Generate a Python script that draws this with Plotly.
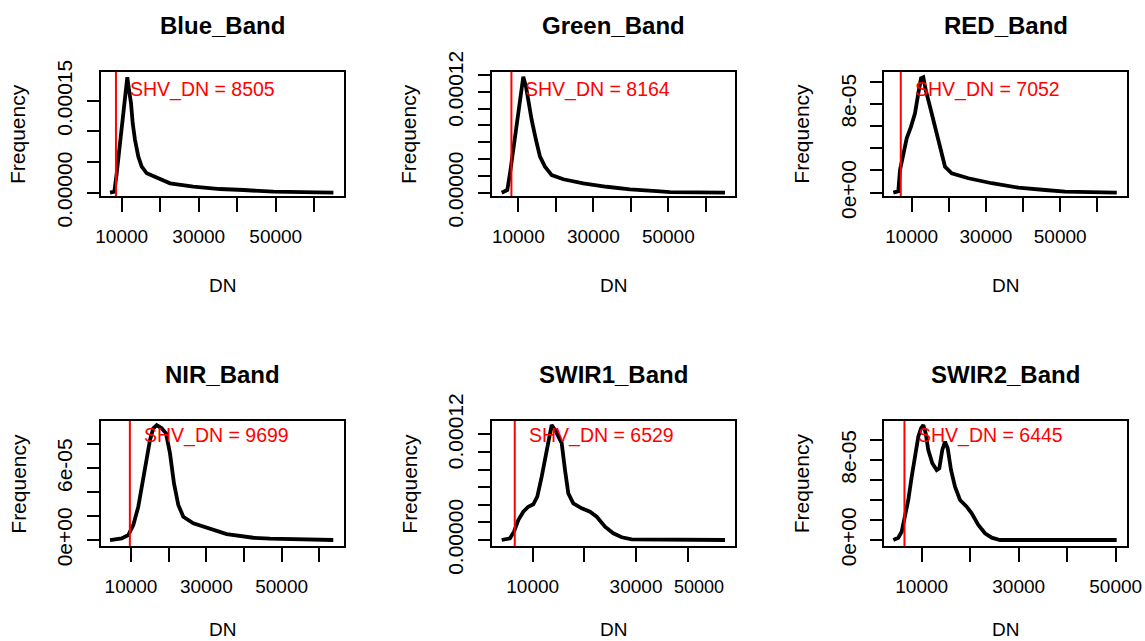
import plotly.graph_objects as go

W, H = 1145, 641
FONT = "Liberation Sans, Arial, sans-serif"

# ---------------- data ----------------
band_names = ["Blue_Band", "Green_Band", "RED_Band", "NIR_Band", "SWIR1_Band", "SWIR2_Band"]
shv_dn = [8505, 8164, 7052, 9699, 6529, 6445]

blue_dn = [6961, 8078, 8701, 9377, 10000, 10597, 11039, 11455, 11896, 12416, 12857, 13455,
           14312, 15195, 16494, 19091, 22545, 28597, 35532, 41584, 49377, 64961]
blue_freq = [0, 1.6e-6, 3.17e-5, 7.25e-5, 1.078e-4, 1.515e-4, 1.732e-4, 1.886e-4, 1.678e-4,
             1.461e-4, 1.134e-4, 8.6e-5, 5.88e-5, 4.25e-5, 3.17e-5, 2.52e-5, 1.53e-5, 9.8e-6,
             6.0e-6, 4.4e-6, 1.6e-6, 0]

green_dn = [5573, 7067, 7787, 8667, 9387, 10267, 10907, 11333, 12053, 12667, 13573, 14720,
            15787, 17120, 18907, 22000, 27333, 33573, 39787, 46907, 50453, 65120]
green_freq = [0, 3.2e-6, 2.3e-5, 5.08e-5, 7.46e-5, 9.85e-5, 1.22e-4, 1.381e-4, 1.262e-4,
              1.10e-4, 8.65e-5, 6.27e-5, 4.29e-5, 3.1e-5, 2.1e-5, 1.6e-5, 1.12e-5, 7.1e-6,
              4.0e-6, 2.0e-6, 8e-7, 0]

red_dn = [5040, 6388, 6846, 7736, 8652, 9811, 10889, 11779, 12507, 13127, 13774, 14933,
          16280, 17628, 18976, 20782, 25256, 31563, 38733, 45930, 51321, 65256]
red_freq = [0, 1.2e-6, 2.04e-5, 3.55e-5, 4.9e-5, 5.95e-5, 7.15e-5, 8.95e-5, 1.03e-4, 1.04e-4,
            9.25e-5, 7.75e-5, 5.95e-5, 4.14e-5, 2.34e-5, 1.75e-5, 1.3e-5, 8.5e-6, 4.5e-6,
            2.4e-6, 9e-7, 0]

nir_dn = [4424, 7531, 9283, 10611, 11938, 13107, 14169, 15045, 15921, 16824, 18152, 19294,
          20356, 21418, 22560, 23887, 26543, 30977, 35412, 42475, 46910, 63718]
nir_freq = [0, 1.4e-6, 4.2e-6, 1.26e-5, 2.79e-5, 4.74e-5, 6.69e-5, 8.37e-5, 9.35e-5, 9.62e-5,
            9.35e-5, 8.93e-5, 7.25e-5, 4.74e-5, 2.93e-5, 1.95e-5, 1.4e-5, 9.8e-6, 5.0e-6,
            1.9e-6, 1.1e-6, 0]

swir1_dn = [4000, 5607, 6381, 7213, 8181, 9148, 10116, 10890, 11742, 12574, 13213, 13677,
            14316, 14955, 15612, 16251, 16890, 17858, 19483, 21090, 22386, 23993, 25599,
            27225, 29161, 47218]
swir1_freq = [0, 1.9e-6, 9.4e-6, 2.27e-5, 3.22e-5, 3.78e-5, 4.06e-5, 4.92e-5, 7.2e-5, 9.85e-5,
              1.21e-4, 1.307e-4, 1.25e-4, 1.17e-4, 1.10e-4, 7.95e-5, 5.3e-5, 4.17e-5, 3.6e-5,
              3.22e-5, 2.65e-5, 1.51e-5, 7.6e-6, 3.1e-6, 8e-7, 0]

swir2_dn = [4144, 5175, 5876, 6557, 7237, 7938, 8619, 9299, 9856, 10330, 10825, 11361, 12186,
            13093, 13629, 14247, 14804, 15361, 16041, 16866, 17897, 19278, 20309, 21670,
            23052, 24433, 26144, 50206]
swir2_freq = [0, 2.3e-6, 8.3e-6, 2.33e-5, 4.0e-5, 6.33e-5, 8.67e-5, 1.033e-4, 1.117e-4,
              1.15e-4, 1.067e-4, 9.0e-5, 7.67e-5, 7.0e-5, 7.17e-5, 9.0e-5, 9.83e-5, 9.17e-5,
              7.0e-5, 5.33e-5, 4.0e-5, 3.33e-5, 2.67e-5, 1.5e-5, 6.7e-6, 2.3e-6, 0, 0]

x_tickvals = [
    [10000, 20000, 30000, 40000, 50000, 60000],
    [10000, 20000, 30000, 40000, 50000, 60000],
    [10000, 20000, 30000, 40000, 50000, 60000],
    [10000, 20000, 30000, 40000, 50000, 60000],
    [10000, 20000, 30000, 40000],
    [10000, 20000, 30000, 40000, 50000],
]
x_ticktext = [
    ["10000", "", "30000", "", "50000", ""],
    ["10000", "", "30000", "", "50000", ""],
    ["10000", "", "30000", "", "50000", ""],
    ["10000", "", "30000", "", "50000", ""],
    ["10000", "", "30000", ""],
    ["10000", "", "30000", "", "50000"],
]
y_tickvals = [
    [0, 5e-5, 1e-4, 1.5e-4],
    [0, 2e-5, 4e-5, 6e-5, 8e-5, 1e-4, 1.2e-4, 1.4e-4],
    [0, 2e-5, 4e-5, 6e-5, 8e-5, 1e-4],
    [0, 2e-5, 4e-5, 6e-5, 8e-5],
    [0, 2e-5, 4e-5, 6e-5, 8e-5, 1e-4, 1.2e-4],
    [0, 2e-5, 4e-5, 6e-5, 8e-5, 1e-4],
]
y_ticktext = [
    ["0.00000", "", "", "0.00015"],
    ["0.00000", "", "", "", "", "", "0.00012", ""],
    ["0e+00", "", "", "", "8e-05", ""],
    ["0e+00", "", "", "6e-05", ""],
    ["0.00000", "", "", "", "", "", "0.00012"],
    ["0e+00", "", "", "", "8e-05", ""],
]
extra_label = "50000"   # stray label under the SWIR1 axis

series_dn = [blue_dn, green_dn, red_dn, nir_dn, swir1_dn, swir2_dn]
series_freq = [blue_freq, green_freq, red_freq, nir_freq, swir1_freq, swir2_freq]

# ---------------- layout geometry (pixels) ----------------
boxes = [  # left, right, top, bottom
    (100.7, 344.0, 71.7, 196.0),
    (491.7, 735.0, 71.7, 196.0),
    (884.3, 1126.7, 71.7, 196.0),
    (100.7, 344.0, 421.0, 546.0),
    (491.7, 735.0, 421.0, 546.0),
    (884.3, 1126.7, 421.0, 546.0),
]
x_ranges = [(4545, 67714), (2907, 67787), (2615, 67924), (1954, 66559), (2065, 49154), (2289, 52268)]
y_ranges = [(-5.4e-6, 1.977e-4), (-3.9e-6, 1.44e-4), (-3.0e-6, 1.09e-4),
            (-5.0e-6, 9.96e-5), (-6.8e-6, 1.352e-4), (-6.0e-6, 1.19e-4)]

fig = go.Figure()
annotations = []
shapes = []

for i in range(6):
    n = "" if i == 0 else str(i + 1)
    l, r, t, b = boxes[i]
    fig.add_trace(go.Scatter(
        x=series_dn[i], y=series_freq[i], mode="lines",
        line=dict(color="black", width=3.8),
        xaxis="x" + n, yaxis="y" + n, showlegend=False, hoverinfo="skip",
    ))
    axis_common = dict(
        showgrid=False, zeroline=False, showline=True, linecolor="black", linewidth=2,
        mirror=True, ticks="outside", tickcolor="black", tickwidth=2, automargin=False,
    )
    fig.layout["xaxis" + n] = dict(
        axis_common, domain=[l / W, r / W], range=list(x_ranges[i]),
        tickmode="array", tickvals=x_tickvals[i], ticktext=x_ticktext[i],
        ticklen=14, ticklabelstandoff=8, anchor="y" + n,
        tickfont=dict(family=FONT, size=19, color="black"),
    )
    fig.layout["yaxis" + n] = dict(
        axis_common, domain=[1 - b / H, 1 - t / H], range=list(y_ranges[i]),
        tickmode="array", tickvals=y_tickvals[i], ticktext=y_ticktext[i],
        ticklen=12, tickangle=-90, ticklabelstandoff=6, anchor="x" + n,
        tickfont=dict(family=FONT, size=21, color="black"),
    )
    cx = (l + r) / 2
    cy = (t + b) / 2
    title_y = 25 if i < 3 else 373.3
    annotations.append(dict(
        text="<b>" + band_names[i] + "</b>", xref="paper", yref="paper",
        x=cx / W, y=1 - (title_y + 1) / H, xanchor="center", yanchor="middle",
        showarrow=False, font=dict(family=FONT, size=24, color="black"),
    ))
    annotations.append(dict(
        text="Frequency", xref="paper", yref="paper", textangle=-90,
        x=(l - 82.5) / W, y=1 - cy / H, xanchor="center", yanchor="middle",
        showarrow=False, font=dict(family=FONT, size=21, color="black"),
    ))
    dn_y = 285 if i < 3 else 629
    annotations.append(dict(
        text="DN", xref="paper", yref="paper",
        x=cx / W, y=1 - dn_y / H, xanchor="center", yanchor="middle",
        showarrow=False, font=dict(family=FONT, size=19, color="black"),
    ))
    ty = 1 - 17.6 / (b - t) if i < 3 else 1 - 14.7 / (b - t)
    annotations.append(dict(
        text="SHV_DN = " + str(shv_dn[i]), xref="x" + n, yref="y" + n + " domain",
        x=shv_dn[i], y=ty, xanchor="left", yanchor="middle", xshift=12,
        showarrow=False, font=dict(family=FONT, size=19.5, color="red"),
    ))
    shapes.append(dict(
        type="line", xref="x" + n, yref="y" + n + " domain",
        x0=shv_dn[i], x1=shv_dn[i], y0=0, y1=1,
        line=dict(color="red", width=2),
    ))

annotations.append(dict(
    text=extra_label, xref="paper", yref="paper", x=699 / W, y=1 - 587 / H,
    xanchor="center", yanchor="middle", showarrow=False,
    font=dict(family=FONT, size=18, color="black"),
))

fig.update_layout(
    width=W, height=H, margin=dict(l=0, r=0, t=0, b=0, autoexpand=False),
    paper_bgcolor="white", plot_bgcolor="white",
    annotations=annotations, shapes=shapes, showlegend=False,
)

fig.write_html(
    "out.html",
    config={"displayModeBar": False},
    post_script="document.body.style.margin='0';document.body.style.overflow='hidden';",
)
